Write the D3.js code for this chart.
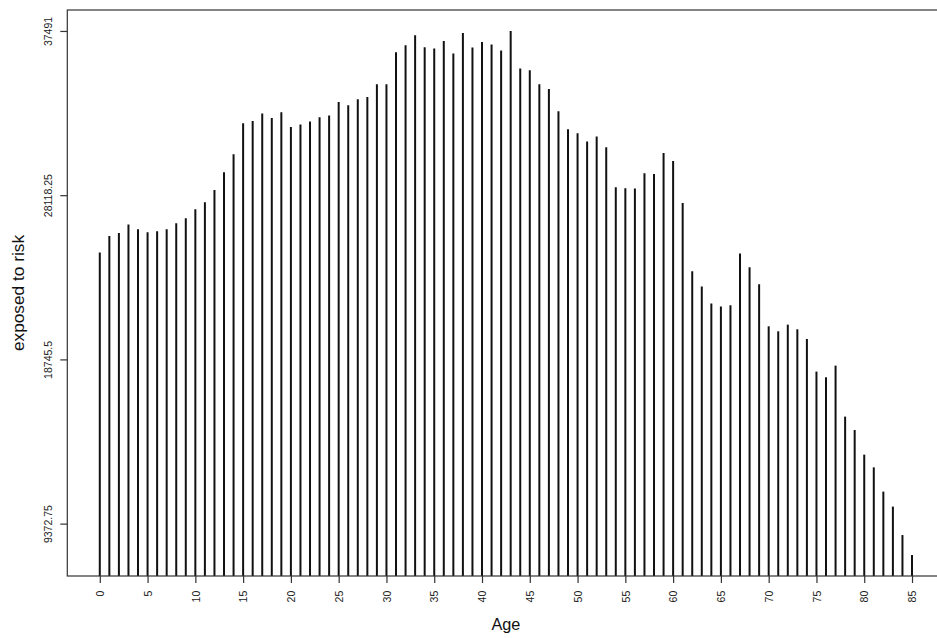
<!DOCTYPE html>
<html>
<head>
  <script type="text/javascript" src="https://d3js.org/d3.v7.min.js"></script>
</head>
<body>
<style type="text/css">
  html, body, svg {
    overflow: hidden;
    margin: 0px;
    width: 100%;
    height: 100%;
    background: #fff;
  }
  .tick-label {
    font-family: "Liberation Sans", Arial, sans-serif;
    font-size: 10.5px;
    fill: #222;
  }
  .axis-title {
    font-family: "Liberation Sans", Arial, sans-serif;
    font-size: 16.3px;
    fill: #111;
  }
</style>

<script>
"use strict";

// ages on the x axis (0..85)
const AGES = d3.range(0, 86);

// exposed to risk, one value per age
const EXPOSED = [
  24840, 25790, 25960, 26440, 26170, 26000, 26060, 26170, 26510, 26800,
  27310, 27710, 28415, 29425, 30450, 32220, 32350, 32780, 32525, 32850,
  32010, 32150, 32320, 32565, 32660, 33440, 33250, 33590, 33720, 34450,
  34450, 36275, 36675, 37245, 36560, 36485, 36920, 36200, 37375, 36545,
  36865, 36715, 36370, 37491, 35345, 35245, 34450, 34180, 32905, 31880,
  31650, 31180, 31465, 30850, 28570, 28510, 28495, 29370, 29330, 30525,
  30070, 27675, 23775, 22900, 21930, 21760, 21835, 24785, 24005, 23030,
  20635, 20350, 20730, 20465, 19910, 18050, 17725, 18390, 15480, 14715,
  13310, 12585, 11200, 10345, 8720, 7580
];

// tick labels
const X_TICKS = d3.range(0, 86, 5);
const Y_TICKS = [9372.75, 18745.5, 28118.25, 37491];

// dimensions
const WIDTH = 937;
const HEIGHT = 638;
const PLOT_LEFT = 67.3;
const PLOT_RIGHT = 944.5;   // box runs past the right edge of the picture
const PLOT_TOP = 10;
const PLOT_BOTTOM = 576;
const TICK_LEN = 7;

const SVG = d3.select("body")
  .append("svg")
  .attr("width", WIDTH)
  .attr("height", HEIGHT);

// R style 4% padding on both axes
const xExt = d3.extent(AGES);
const xPad = (xExt[1] - xExt[0]) * 0.04;
const X_SCALE = d3.scaleLinear()
  .domain([xExt[0] - xPad, xExt[1] + xPad])
  .range([PLOT_LEFT, PLOT_RIGHT]);

const yExt = d3.extent(EXPOSED);
const yPad = (yExt[1] - yExt[0]) * 0.04;
const Y_SCALE = d3.scaleLinear()
  .domain([yExt[0] - yPad, yExt[1] + yPad])
  .range([PLOT_BOTTOM, PLOT_TOP]);

// spikes (type = "h")
SVG.append("g")
  .selectAll("line")
  .data(AGES)
  .join("line")
  .attr("x1", d => X_SCALE(d))
  .attr("x2", d => X_SCALE(d))
  .attr("y1", PLOT_BOTTOM)
  .attr("y2", (d, i) => Y_SCALE(EXPOSED[i]))
  .attr("stroke", "#111")
  .attr("stroke-width", 2);

// plot box
SVG.append("rect")
  .attr("x", PLOT_LEFT)
  .attr("y", PLOT_TOP)
  .attr("width", PLOT_RIGHT - PLOT_LEFT)
  .attr("height", PLOT_BOTTOM - PLOT_TOP)
  .attr("fill", "none")
  .attr("stroke", "#333")
  .attr("stroke-width", 1.2);

// x axis
const xAxis = d3.axisBottom(X_SCALE)
  .tickValues(X_TICKS)
  .tickSize(TICK_LEN)
  .tickFormat(d3.format("d"));

const gx = SVG.append("g")
  .attr("transform", `translate(0,${PLOT_BOTTOM})`)
  .call(xAxis);
gx.select(".domain").remove();
gx.selectAll(".tick line").attr("stroke", "#333").attr("stroke-width", 1.2);
gx.selectAll(".tick text")
  .attr("class", "tick-label")
  .attr("font-size", null)
  .attr("font-family", null)
  .attr("text-anchor", "end")
  .attr("transform", "rotate(-90)")
  .attr("x", -14.7)
  .attr("y", 0)
  .attr("dy", "0.35em");

// y axis
const yAxis = d3.axisLeft(Y_SCALE)
  .tickValues(Y_TICKS)
  .tickSize(TICK_LEN)
  .tickFormat(d => String(d));

const gy = SVG.append("g")
  .attr("transform", `translate(${PLOT_LEFT},0)`)
  .call(yAxis);
gy.select(".domain").remove();
gy.selectAll(".tick line").attr("stroke", "#333").attr("stroke-width", 1.2);
gy.selectAll(".tick text")
  .attr("class", "tick-label")
  .attr("font-size", null)
  .attr("font-family", null)
  .attr("text-anchor", "middle")
  .attr("transform", "rotate(-90)")
  .attr("x", 0)
  .attr("y", -15.5)
  .attr("dy", null);

// axis titles
SVG.append("text")
  .attr("class", "axis-title")
  .attr("x", (PLOT_LEFT + PLOT_RIGHT) / 2)
  .attr("y", 629.5)
  .attr("text-anchor", "middle")
  .text("Age");

SVG.append("text")
  .attr("class", "axis-title")
  .attr("font-size", "17.3px")
  .style("font-size", "17.3px")
  .attr("transform", `translate(23.5,${(PLOT_TOP + PLOT_BOTTOM) / 2}) rotate(-90)`)
  .attr("text-anchor", "middle")
  .text("exposed to risk");
</script>
</body>
</html>
